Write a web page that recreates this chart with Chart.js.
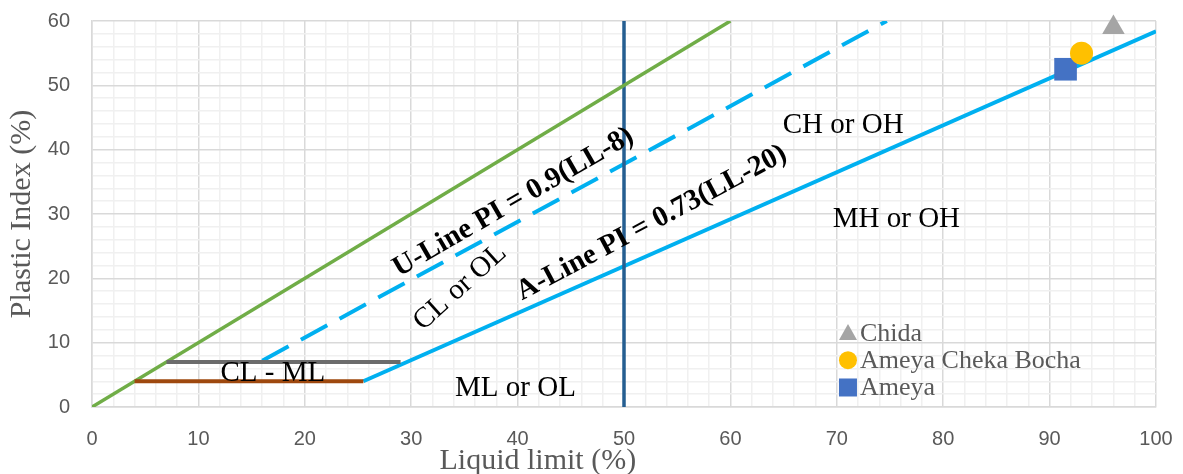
<!DOCTYPE html>
<html lang="en">
<head>
    <meta charset="UTF-8">
    <script src="https://cdn.jsdelivr.net/npm/chart.js"></script>
    <title>Plasticity Chart</title>
    <style>
        html, body { margin: 0; padding: 0; background: #fff; }
        #wrap { width: 1183px; height: 474px; }
    </style>
</head>
<body>
    <div id="wrap"><canvas id="plasticityChart"></canvas></div>
    <script>
        // reference lines (liquid limit, plasticity index)
        const greenX = [0, 60];
        const greenY = [0, 60];
        const uLineX = [16, 74.7];
        const uLineY = [7.2, 60];
        const aLineX = [25.5, 100];
        const aLineY = [4, 58.4];
        const llFiftyX = [50, 50];
        const llFiftyY = [0, 60];
        const clmlTopX = [7, 29];
        const clmlTopY = [7, 7];
        const clmlBottomX = [4, 25.5];
        const clmlBottomY = [4, 4];

        // soil samples
        const sampleNames = ['Chida', 'Ameya Cheka Bocha', 'Ameya'];
        const sampleLL = [96, 93, 91.5];
        const samplePI = [59, 55, 52.5];

        const xTicks = [0, 10, 20, 30, 40, 50, 60, 70, 80, 90, 100];
        const yTicks = [0, 10, 20, 30, 40, 50, 60];

        const pts = (xs, ys) => xs.map((x, i) => ({ x: x, y: ys[i] }));

        const serif = '"Liberation Serif", "Times New Roman", serif';
        const greyText = '#595959';

        const lineSet = (data, color, width, order, dash) => ({
            data: data,
            showLine: true,
            borderColor: color,
            borderWidth: width,
            borderDash: dash || [],
            pointRadius: 0,
            pointHoverRadius: 0,
            fill: false,
            order: order
        });

        const sampleStyles = [
            { color: '#a5a5a5', style: 'triangle', r: 13 },
            { color: '#ffc000', style: 'circle', r: 11.5 },
            { color: '#4472c4', style: 'rect', r: 16 }
        ];

        // lower order is drawn on top
        const datasets = [
            lineSet(pts(greenX, greenY), '#70ad47', 3.5, 3),
            lineSet(pts(uLineX, uLineY), '#00b0f0', 4, 5, [30, 14]),
            lineSet(pts(aLineX, aLineY), '#00b0f0', 4, 5),
            lineSet(pts(clmlTopX, clmlTopY), '#6b6b6b', 4, 2),
            lineSet(pts(clmlBottomX, clmlBottomY), '#9e480e', 4, 2),
            lineSet(pts(llFiftyX, llFiftyY), '#255e91', 3.5, 4)
        ];
        sampleNames.forEach((name, i) => {
            const s = sampleStyles[i];
            datasets.push({
                label: name,
                data: [{ x: sampleLL[i], y: samplePI[i] }],
                pointStyle: s.style,
                pointRadius: s.r,
                pointHoverRadius: s.r,
                backgroundColor: s.color,
                borderColor: s.color,
                borderWidth: 0,
                showLine: false,
                clip: false,
                order: 1
            });
        });

        // zone names and line equations written on the plot
        const notes = [
            { text: 'CH or OH', x: 70.6, y: 43.7, angle: 0, bold: false },
            { text: 'MH or OH', x: 75.6, y: 29.2, angle: 0, bold: false },
            { text: 'ML or OL', x: 39.8, y: 2.9, angle: 0, bold: false },
            { text: 'CL - ML', x: 17.0, y: 5.3, angle: 0, bold: false },
            { text: 'CL or OL', x: 34.6, y: 18.6, angle: -42, bold: false },
            { text: 'U-Line PI = 0.9(LL-8)', x: 39.6, y: 31.8, angle: -30, bold: true },
            { text: 'A-Line PI = 0.73(LL-20)', x: 52.6, y: 28.6, angle: -28, bold: true }
        ];

        const notesPlugin = {
            id: 'notes',
            afterDatasetsDraw(chart) {
                const { ctx, scales, chartArea } = chart;
                ctx.save();
                ctx.textAlign = 'center';
                ctx.textBaseline = 'middle';
                ctx.fillStyle = '#000';
                notes.forEach(n => {
                    ctx.save();
                    ctx.translate(scales.x.getPixelForValue(n.x), scales.y.getPixelForValue(n.y));
                    ctx.rotate(n.angle * Math.PI / 180);
                    ctx.font = (n.bold ? 'bold ' : '') + '29px ' + serif;
                    ctx.fillText(n.text, 0, 0);
                    ctx.restore();
                });

                // legend inside the plot
                const w = chartArea.right - chartArea.left;
                const h = chartArea.bottom - chartArea.top;
                const lx = chartArea.left + 0.7105 * w;
                let ly = chartArea.top + 0.808 * h;
                ctx.font = '26px ' + serif;
                ctx.textAlign = 'left';
                sampleNames.forEach((name, i) => {
                    const s = sampleStyles[i];
                    ctx.fillStyle = s.color;
                    ctx.beginPath();
                    if (s.style === 'triangle') {
                        ctx.moveTo(lx, ly - 9);
                        ctx.lineTo(lx + 9, ly + 7);
                        ctx.lineTo(lx - 9, ly + 7);
                        ctx.closePath();
                        ctx.fill();
                    } else if (s.style === 'circle') {
                        ctx.arc(lx, ly, 9, 0, Math.PI * 2);
                        ctx.fill();
                    } else {
                        ctx.fillRect(lx - 9, ly - 9, 18, 18);
                    }
                    ctx.fillStyle = greyText;
                    ctx.fillText(name, lx + 12, ly + 1);
                    ly += 27.3;
                });

                // x axis title
                ctx.font = '30px ' + serif;
                ctx.textAlign = 'center';
                ctx.fillStyle = greyText;
                ctx.fillText('Liquid limit (%)', chartArea.left + 0.419 * w, 461);
                ctx.restore();
            }
        };

        const gridColor = ctx => (ctx.tick && ctx.tick.value % 10 === 0) ? '#d9d9d9' : '#f0f0f0';

        new Chart(document.getElementById('plasticityChart'), {
            type: 'scatter',
            data: { datasets: datasets },
            options: {
                responsive: true,
                maintainAspectRatio: false,
                animation: false,
                layout: { padding: { top: 21, right: 27, left: 0, bottom: 0 } },
                plugins: {
                    legend: { display: false },
                    tooltip: { enabled: false }
                },
                scales: {
                    x: {
                        type: 'linear',
                        min: 0,
                        max: 100,
                        afterFit: s => {
                            s.height = 67;
                            s.paddingLeft = 0;
                            s.paddingRight = 0;
                        },
                        grid: { color: gridColor, lineWidth: 1.5, drawTicks: false },
                        border: { color: '#d9d9d9', width: 1.5 },
                        ticks: {
                            stepSize: 2,
                            autoSkip: false,
                            maxRotation: 0,
                            padding: 20,
                            color: greyText,
                            font: { family: '"Liberation Sans", Arial, sans-serif', size: 20 },
                            callback: v => xTicks.includes(v) ? v : ''
                        }
                    },
                    y: {
                        type: 'linear',
                        min: 0,
                        max: 60,
                        afterFit: s => {
                            s.width = 92;
                            s.paddingTop = 0;
                            s.paddingBottom = 0;
                        },
                        grid: { color: gridColor, lineWidth: 1.5, drawTicks: false },
                        border: { color: '#d9d9d9', width: 1.5 },
                        title: {
                            display: true,
                            text: 'Plastic Index (%)',
                            color: greyText,
                            font: { family: serif, size: 30 },
                            padding: { top: 4, bottom: 0 }
                        },
                        ticks: {
                            stepSize: 2,
                            autoSkip: false,
                            padding: 22,
                            color: greyText,
                            font: { family: '"Liberation Sans", Arial, sans-serif', size: 20 },
                            callback: v => yTicks.includes(v) ? v : ''
                        }
                    }
                }
            },
            plugins: [notesPlugin]
        });
    </script>
</body>
</html>
